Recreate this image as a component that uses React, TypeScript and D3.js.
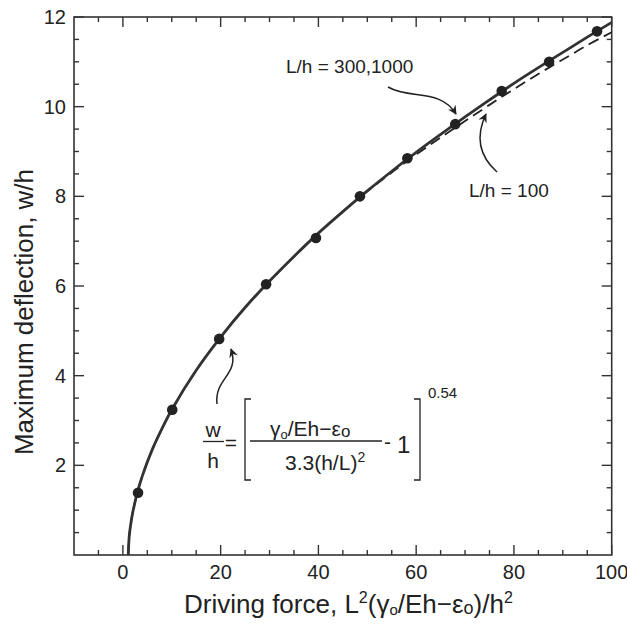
import React from "react";
import * as d3 from "d3";

// Fit curves
const fitX = [1.1, 1.3, 1.6, 2, 3, 4, 6, 8, 10, 15, 20, 25, 30, 35, 40, 45, 50, 55, 60, 65, 70, 75, 80, 85, 90, 95, 100];
const fitSolid = [0, 0.42, 0.68, 0.94, 1.41, 1.77, 2.35, 2.82, 3.24, 4.12, 4.86, 5.52, 6.11, 6.66, 7.18, 7.66, 8.12, 8.56, 8.98, 9.38, 9.77, 10.15, 10.52, 10.87, 11.21, 11.55, 11.88];
const fitDashed = [0, 0.42, 0.68, 0.94, 1.41, 1.77, 2.35, 2.82, 3.24, 4.12, 4.86, 5.52, 6.11, 6.66, 7.18, 7.66, 8.11, 8.53, 8.93, 9.31, 9.68, 10.04, 10.39, 10.73, 11.05, 11.37, 11.66];
// Data points
const dataX = [3.1, 10.1, 19.7, 29.3, 39.5, 48.5, 58.2, 68.0, 77.5, 87.2, 97.0];
const dataY = [1.39, 3.24, 4.82, 6.04, 7.07, 8.0, 8.85, 9.61, 10.35, 11.0, 11.68];
// Ticks
const xMajor = [0, 20, 40, 60, 80, 100];
const xMinor = [-5, 5, 10, 15, 25, 30, 35, 45, 50, 55, 65, 70, 75, 85, 90, 95];
const yMajor = [2, 4, 6, 8, 10, 12];
const yMinor = [0.5, 1, 1.5, 2.5, 3, 3.5, 4.5, 5, 5.5, 6.5, 7, 7.5, 8.5, 9, 9.5, 10.5, 11, 11.5];

const FONT = "'Liberation Sans', Arial, Helvetica, sans-serif";
const INK = "#222";

export default function App() {
  const x = d3.scaleLinear().domain([-10, 100]).range([74, 611.7]);
  const y = d3.scaleLinear().domain([0, 12]).range([555, 17]);
  const [x0, x1] = x.range();
  const [yb, yt] = y.range();

  const line = d3
    .line<[number, number]>()
    .x((d) => x(d[0]))
    .y((d) => y(d[1]))
    .curve(d3.curveCatmullRom.alpha(0.5));

  const solid = line(fitX.map((v, i) => [v, fitSolid[i]]) as [number, number][]) || "";
  const dashed = line(fitX.map((v, i) => [v, fitDashed[i]]) as [number, number][]) || "";

  const majLen = 10;
  const minLen = 5;

  return (
    <svg width={627} height={629} style={{ position: "absolute", left: 0, top: 0 }} fontFamily={FONT}>
      <defs>
        <clipPath id="plot">
          <rect x={x0} y={yt} width={x1 - x0} height={yb - yt} />
        </clipPath>
        <marker id="arr" viewBox="0 0 10 10" refX={9} refY={5} markerWidth={10} markerHeight={9} markerUnits="userSpaceOnUse" orient="auto">
          <path d="M0,0 L10,5 L0,10 L3,5 Z" fill={INK} />
        </marker>
      </defs>
      <rect width={627} height={629} fill="#fff" />

      {/* ticks */}
      <g stroke="#333" strokeWidth={1.4}>
        {xMajor.map((v) => (
          <g key={"xM" + v}>
            <line x1={x(v)} x2={x(v)} y1={yb} y2={yb - majLen} />
            <line x1={x(v)} x2={x(v)} y1={yt} y2={yt + majLen} />
          </g>
        ))}
        {xMinor.map((v) => (
          <g key={"xm" + v}>
            <line x1={x(v)} x2={x(v)} y1={yb} y2={yb - minLen} />
            <line x1={x(v)} x2={x(v)} y1={yt} y2={yt + minLen} />
          </g>
        ))}
        {yMajor.map((v) => (
          <g key={"yM" + v}>
            <line x1={x0} x2={x0 + majLen} y1={y(v)} y2={y(v)} />
            <line x1={x1} x2={x1 - majLen} y1={y(v)} y2={y(v)} />
          </g>
        ))}
        {yMinor.map((v) => (
          <g key={"ym" + v}>
            <line x1={x0} x2={x0 + minLen} y1={y(v)} y2={y(v)} />
            <line x1={x1} x2={x1 - minLen} y1={y(v)} y2={y(v)} />
          </g>
        ))}
      </g>
      <rect x={x0} y={yt} width={x1 - x0} height={yb - yt} fill="none" stroke="#333" strokeWidth={1.6} />

      {/* tick labels */}
      <g fill={INK} fontSize={20}>
        {xMajor.map((v) => (
          <text key={"xl" + v} x={x(v)} y={579} textAnchor="middle">
            {v}
          </text>
        ))}
        {yMajor.map((v) => (
          <text key={"yl" + v} x={66} y={y(v)} dy="0.35em" textAnchor="end">
            {v}
          </text>
        ))}
      </g>

      {/* axis titles */}
      <text x={184} y={613} fontSize={26} fill={INK}>
        Driving force, L<tspan fontSize={16} dy={-10}>2</tspan>
        <tspan dy={10}>(γ</tspan>
        <tspan fontSize={15} dy={2}>o</tspan>
        <tspan dy={-2}>/Eh−ε</tspan>
        <tspan fontSize={18} dy={1}>o</tspan>
        <tspan dy={-1}>)/h</tspan>
        <tspan fontSize={16} dy={-10}>2</tspan>
      </text>
      <text transform="translate(33,312) rotate(-90)" textAnchor="middle" fontSize={26} fill={INK}>
        Maximum deflection, w/h
      </text>

      {/* curves */}
      <g clipPath="url(#plot)" fill="none">
        <path d={dashed} stroke={INK} strokeWidth={1.8} strokeDasharray="11,6" />
        <path d={solid} stroke="#333" strokeWidth={2.8} />
      </g>

      {/* points */}
      <g fill="#222">
        {dataX.map((v, i) => (
          <circle key={"p" + i} cx={x(v)} cy={y(dataY[i])} r={5.3} />
        ))}
      </g>

      {/* annotations */}
      <g fill="none" stroke={INK} strokeWidth={1.5}>
        <path d="M388,87 C410,100 440,88 456,114" markerEnd="url(#arr)" />
        <path d="M497,172 C478,155 476,135 486,114" markerEnd="url(#arr)" />
        <path d="M217,404 C214,378 240,375 231,349" markerEnd="url(#arr)" />
      </g>
      <g fill={INK} fontSize={19}>
        <text x={286} y={73}>L/h = 300,1000</text>
        <text x={469} y={197}>L/h = 100</text>
      </g>

      {/* formula */}
      <g fill={INK} fontSize={21}>
        <text x={213} y={437} textAnchor="middle">w</text>
        <line x1={203} x2={224} y1={441.5} y2={441.5} stroke={INK} strokeWidth={1.3} />
        <text x={213} y={468} textAnchor="middle">h</text>
        <text x={231} y={450} textAnchor="middle">=</text>
        <path d="M251,399 H245 V480 H251" fill="none" stroke={INK} strokeWidth={1.3} />
        <text x={270} y={436}>
          γ<tspan fontSize={13} dy={3}>o</tspan>
          <tspan dy={-3}>/Eh−ε</tspan>
          <tspan fontSize={17} dy={1}>o</tspan>
        </text>
        <line x1={250} x2={382} y1={441} y2={441} stroke={INK} strokeWidth={1.3} />
        <text x={285} y={470}>
          3.3(h/L)<tspan fontSize={14} dy={-8}>2</tspan>
        </text>
        <text x={384} y={449}>-</text>
        <text x={397} y={453} fontSize={24}>1</text>
        <path d="M414,399 H420 V480 H414" fill="none" stroke={INK} strokeWidth={1.3} />
        <text x={428} y={398} fontSize={15}>0.54</text>
      </g>
    </svg>
  );
}
